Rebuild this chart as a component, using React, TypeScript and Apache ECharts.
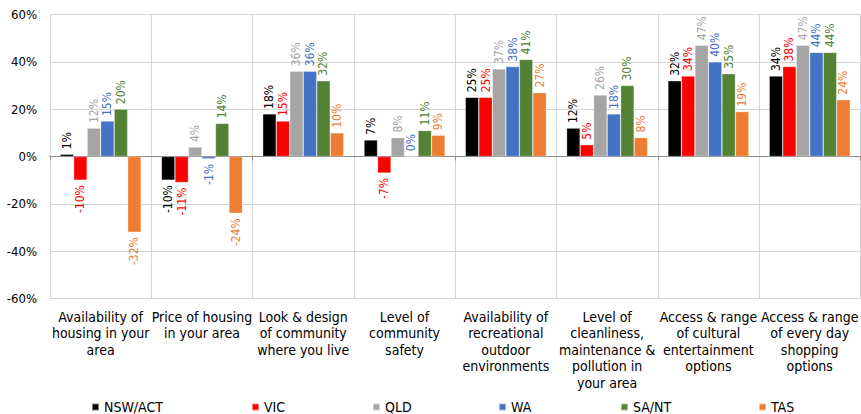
import React, { useEffect, useRef } from "react";
import * as echarts from "echarts";

const categories = [
  "Availability of\nhousing in your\narea",
  "Price of housing\nin your area",
  "Look & design\nof community\nwhere you live",
  "Level of\ncommunity\nsafety",
  "Availability of\nrecreational\noutdoor\nenvironments",
  "Level of\ncleanliness,\nmaintenance &\npollution in\nyour area",
  "Access & range\nof cultural\nentertainment\noptions",
  "Access & range\nof every day\nshopping\noptions",
];

const seriesNames = ["NSW/ACT", "VIC", "QLD", "WA", "SA/NT", "TAS"];

const nswAct = [1, -10, 18, 7, 25, 12, 32, 34];
const vic = [-10, -11, 15, -7, 25, 5, 34, 38];
const qld = [12, 4, 36, 8, 37, 26, 47, 47];
const wa = [15, -1, 36, 0, 38, 18, 40, 44];
const saNt = [20, 14, 32, 11, 41, 30, 35, 44];
const tas = [-32, -24, 10, 9, 27, 8, 19, 24];

const yTicks = [-60, -40, -20, 0, 20, 40, 60];

const colors = ["#000000", "#FF0000", "#A5A5A5", "#4472C4", "#548235", "#ED7D31"];
const labelColors = ["#000000", "#FF0000", "#A5A5A5", "#4472C4", "#548235", "#ED7D31"];

const legendLeft = [91, 251, 372, 498, 620, 758];

const FONT = "'DejaVu Sans Condensed', Lato, sans-serif";

export default function App() {
  const ref = useRef<HTMLDivElement>(null);

  useEffect(() => {
    if (!ref.current) return;
    const chart = echarts.init(ref.current, undefined, { renderer: "svg" });
    const allValues = [nswAct, vic, qld, wa, saNt, tas];

    const series = allValues.map((vals, i) => ({
      name: seriesNames[i],
      type: "bar",
      xAxisIndex: 0,
      barGap: "0%",
      barCategoryGap: "20%",
      itemStyle: { color: colors[i], borderColor: "rgba(255,255,255,0.5)", borderWidth: 0.6 },
      data: vals.map((v) => ({
        value: v,
        label: {
          show: true,
          position: v < 0 ? "bottom" : "top",
          rotate: 90,
          align: v < 0 ? "right" : "left",
          verticalAlign: "middle",
          distance: 5,
          formatter: "{c}%",
          color: labelColors[i],
          fontSize: 12,
          fontFamily: FONT,
        },
      })),
    }));

    chart.setOption({
      animation: false,
      color: colors,
      textStyle: { fontFamily: FONT },
      legend: seriesNames.map((n, i) => ({
        data: [n],
        left: legendLeft[i],
        top: 399,
        padding: 0,
        itemWidth: 7,
        itemHeight: 7,
        itemGap: 4,
        icon: "rect",
        textStyle: { fontSize: 14, lineHeight: 16, color: "#000", fontFamily: FONT },
        selectedMode: false,
      })),
      grid: { left: 50, top: 14.5, width: 818, height: 284, containLabel: false },
      xAxis: [
        {
          type: "category",
          data: categories,
          position: "bottom",
          axisLine: { show: false, onZero: false },
          axisTick: { show: false },
          splitLine: { show: true, lineStyle: { color: "#d4d4d4", width: 1 } },
          axisLabel: {
            interval: 0,
            margin: 10,
            color: "#000",
            fontSize: 14,
            lineHeight: 16.5,
            fontFamily: FONT,
            verticalAlign: "top",
          },
        },
        {
          type: "category",
          data: categories,
          position: "bottom",
          axisLine: { show: true, onZero: true, lineStyle: { color: "#8c8c8c", width: 1 } },
          axisTick: { show: true, length: 4, lineStyle: { color: "#8c8c8c" } },
          axisLabel: { show: false },
          splitLine: { show: false },
        },
      ],
      yAxis: {
        type: "value",
        min: -60,
        max: 60,
        interval: 20,
        axisLine: { show: true, lineStyle: { color: "#d4d4d4" } },
        axisTick: { show: false },
        splitLine: { show: true, lineStyle: { color: "#d4d4d4", width: 1 } },
        axisLabel: {
          formatter: (v: number) => (yTicks.includes(v) ? `${v}%` : ""),
          color: "#000",
          fontSize: 13,
          fontFamily: FONT,
          margin: 13,
        },
      },
      series,
    });

    return () => chart.dispose();
  }, []);

  return (
    <div
      ref={ref}
      style={{ position: "fixed", left: 0, top: 0, width: 861, height: 414, background: "#fff" }}
    />
  );
}
